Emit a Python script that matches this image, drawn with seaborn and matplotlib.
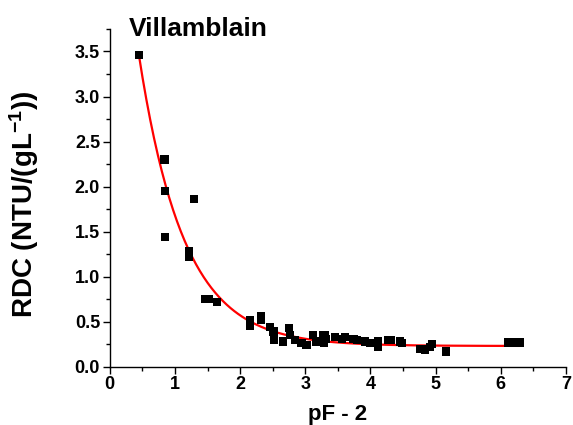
import numpy as np
import pandas as pd
import matplotlib
matplotlib.use('Agg')
import matplotlib.pyplot as plt
import seaborn as sns
from matplotlib.ticker import MultipleLocator, FormatStrFormatter

# measured points (pF - 2, RDC)
pf = [0.445, 0.84, 0.85, 0.85, 1.29, 1.22, 1.22, 1.46, 1.52, 1.65,
      2.15, 2.15, 2.32, 2.32, 2.46, 2.51, 2.52, 2.66, 2.75, 2.77, 2.84, 2.94, 3.02, 3.12, 3.16, 3.28, 3.29,
      3.30, 3.31, 3.46, 3.56, 3.61, 3.74, 3.79, 3.92, 3.99, 4.12, 4.12, 4.27, 4.32, 4.45, 4.48,
      4.76, 4.84, 4.91, 4.94, 5.16, 6.11, 6.17, 6.29]
rdc = [3.46, 2.30, 1.95, 1.44, 1.86, 1.28, 1.22, 0.75, 0.75, 0.72,
       0.52, 0.45, 0.56, 0.52, 0.44, 0.39, 0.30, 0.28, 0.43, 0.35, 0.30, 0.26, 0.24, 0.35, 0.28, 0.35, 0.26,
       0.35, 0.31, 0.33, 0.31, 0.33, 0.31, 0.30, 0.28, 0.26, 0.22, 0.28, 0.30, 0.30, 0.28, 0.26,
       0.20, 0.19, 0.22, 0.25, 0.17, 0.27, 0.27, 0.27]

# exponential decay fit y = y0 + A*exp(-x/t)
fit_y0, fit_a, fit_t = 0.23, 6.18, 0.69
fit_range = (0.445, 6.29)

df = pd.DataFrame({'pF': pf, 'RDC': rdc})
xf = np.linspace(fit_range[0], fit_range[1], 300)
df_fit = pd.DataFrame({'pF': xf, 'RDC': fit_y0 + fit_a * np.exp(-xf / fit_t)})

sns.set_style('ticks')
plt.rcParams['font.family'] = ['Liberation Sans', 'DejaVu Sans']
plt.rcParams['font.weight'] = 'bold'
plt.rcParams['text.color'] = 'black'
plt.rcParams['axes.labelcolor'] = 'black'
plt.rcParams['mathtext.fontset'] = 'custom'
plt.rcParams['mathtext.rm'] = 'Liberation Sans:bold'
plt.rcParams['mathtext.bf'] = 'Liberation Sans:bold'
plt.rcParams['mathtext.default'] = 'bf'

fig = plt.figure(figsize=(5.73, 4.25), dpi=100)
ax = fig.add_axes([0.1915, 0.1372, 0.7963, 0.7946])

sns.lineplot(data=df_fit, x='pF', y='RDC', color='red', linewidth=1.6, ax=ax)
sns.scatterplot(data=df, x='pF', y='RDC', marker='s', s=36, color='black',
                edgecolor='none', ax=ax, zorder=3)

ax.set_xlim(0, 7)
ax.set_ylim(0, 3.75)
ax.xaxis.set_major_locator(MultipleLocator(1))
ax.xaxis.set_minor_locator(MultipleLocator(0.5))
ax.yaxis.set_major_locator(MultipleLocator(0.5))
ax.yaxis.set_minor_locator(MultipleLocator(0.25))
ax.yaxis.set_major_formatter(FormatStrFormatter('%.1f'))
sns.despine(ax=ax)
for s in ['left', 'bottom']:
    ax.spines[s].set_linewidth(1.0)
    ax.spines[s].set_color('black')
ax.tick_params(which='major', direction='out', length=5, width=1, labelsize=13,
               colors='black', pad=2)
ax.tick_params(which='minor', direction='out', length=3, width=1, colors='black')
for lab in ax.get_xticklabels() + ax.get_yticklabels():
    lab.set_fontweight('bold')

ax.set_xlabel('pF - 2', fontsize=16, fontweight='bold')
ax.set_ylabel('RDC (NTU/(gL$^{-1}$))', fontsize=20, fontweight='bold')
ax.xaxis.set_label_coords(0.5, -0.11)
ax.yaxis.set_label_coords(-0.15, 0.482)
ax.text(0.042, 0.979, 'Villamblain', transform=ax.transAxes, fontsize=19,
        fontweight='bold', va='baseline', ha='left')

fig.savefig('out.png', dpi=100)
